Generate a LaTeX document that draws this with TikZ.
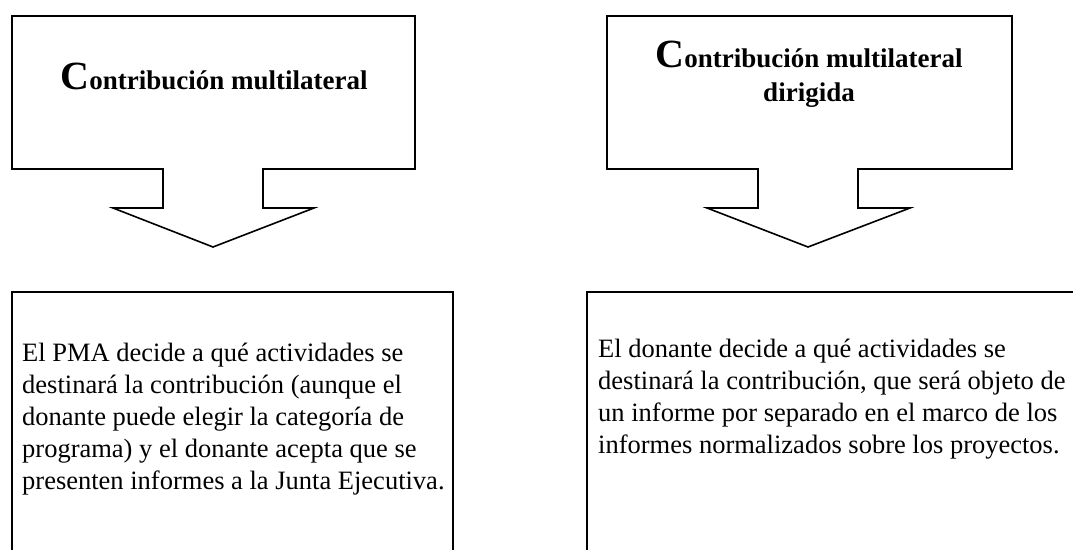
\documentclass[tikz,border=0pt]{standalone}
\usepackage{fontspec}
\setmainfont{Liberation Serif}
\tikzset{
  outline/.style={draw=black, line width=1.6pt, line join=miter, fill=white},
  headtext/.style={inner sep=0pt, font=\bfseries\fontsize{27}{34}\selectfont},
  bodytext/.style={inner sep=0pt, font=\fontsize{26.5}{32}\selectfont}
}
\newcommand{\bigC}{{\fontsize{40}{40}\selectfont C}}
\begin{document}
\begin{tikzpicture}[x=1pt,y=-1pt]
\useasboundingbox (0,0) rectangle (1073,549);
% left callout
\draw[outline] (12,16) -- (415,16) -- (415,169) -- (263,169) -- (263,208) -- (314,208)
  -- (213,247) -- (113,208) -- (163,208) -- (163,169) -- (12,169) -- cycle;
% right callout
\draw[outline] (607,16) -- (1012,16) -- (1012,169) -- (858,169) -- (858,208) -- (910,208)
  -- (808,247) -- (707,208) -- (758,208) -- (758,169) -- (607,169) -- cycle;
% bottom boxes
\draw[outline] (12,292) rectangle (453,570);
\draw[outline] (587,292) rectangle (1090,570);
% headings
\node[headtext, anchor=base] (h1) at (214,89) {\bigC ontribución multilateral};
\node[headtext, anchor=base] (h2) at (809,67)
  {\parbox[t]{340pt}{\centering\bfseries\fontsize{27}{34}\selectfont \bigC ontribución multilateral\\ dirigida}};
% body texts
\node[bodytext, anchor=base west] (t1) at (22,361)
  {\parbox[t]{600pt}{\raggedright\fontsize{26.5}{32}\selectfont
  El PMA decide a qué actividades se\\
  destinará la contribución (aunque el\\
  donante puede elegir la categoría de\\
  programa) y el donante acepta que se\\
  presenten informes a la Junta Ejecutiva.}};
\node[bodytext, anchor=base west] (t2) at (598,357)
  {\parbox[t]{600pt}{\raggedright\fontsize{26.5}{32}\selectfont
  El donante decide a qué actividades se\\
  destinará la contribución, que será objeto de\\
  un informe por separado en el marco de los\\
  informes normalizados sobre los proyectos.}};
\end{tikzpicture}
\end{document}
